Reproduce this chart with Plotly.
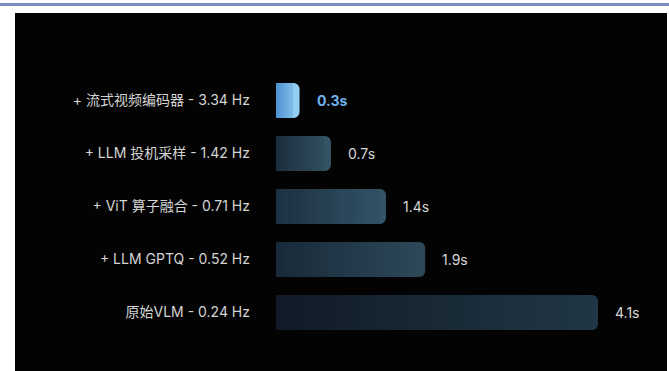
import plotly.graph_objects as go

# Inference latency per optimisation stage
categories = [
    "+ 流式视频编码器 - 3.34 Hz",
    "+ LLM 投机采样 - 1.42 Hz",
    "+ ViT 算子融合 - 0.71 Hz",
    "+ LLM GPTQ - 0.52 Hz",
    "原始VLM - 0.24 Hz",
]
latency_s = [0.3, 0.7, 1.4, 1.9, 4.1]
value_labels = ["0.3s", "0.7s", "1.4s", "1.9s", "4.1s"]

# Gradient colours (left -> right) for each bar
grad_start = ["#4a8fd2", "#1b2d3c", "#1c3042", "#192a3a", "#101b26"]
grad_end = ["#93cef3", "#345365", "#335466", "#2d4959", "#213746"]

W, H = 669, 371
M_L, M_R, M_T, M_B = 276, 16, 74, 32
X_MAX = 4.8
FONT = "Inter, Noto Sans CJK SC"


def hex_to_rgb(h):
    h = h.lstrip("#")
    return tuple(int(h[i:i + 2], 16) for i in (0, 2, 4))


def mix(c0, c1, t):
    a, b = hex_to_rgb(c0), hex_to_rgb(c1)
    return "rgb(%d,%d,%d)" % tuple(round(a[i] + (b[i] - a[i]) * t) for i in range(3))


fig = go.Figure()

# Full-length bars with rounded ends in the end colour
fig.add_trace(go.Bar(
    y=categories, x=latency_s, base=[0] * len(latency_s), orientation="h",
    marker=dict(color=grad_end, line=dict(width=0), cornerradius=6),
    width=0.66, hoverinfo="skip", showlegend=False,
))

# Gradient overlay, split into thin slices that stop short of the rounded end
plot_w = W - M_L - M_R
px_per_unit = plot_w / X_MAX
inset = 7 / px_per_unit
N = 30
for k in range(N):
    starts, widths, colors = [], [], []
    for v, c0, c1 in zip(latency_s, grad_start, grad_end):
        span = max(v - inset, 0)
        step = span / N
        starts.append(k * step)
        widths.append(step * 1.08)
        colors.append(mix(c0, c1, (k + 0.5) / N * span / v))
    fig.add_trace(go.Bar(
        y=categories, x=widths, base=starts, orientation="h",
        marker=dict(color=colors, line=dict(width=0)),
        width=0.66, hoverinfo="skip", showlegend=False,
    ))

# Value labels at the end of each bar
for i, (cat, v, lab) in enumerate(zip(categories, latency_s, value_labels)):
    highlight = i == 0
    fig.add_annotation(
        x=v, y=cat, xref="x", yref="y", text=lab, showarrow=False,
        xanchor="left", yanchor="middle", xshift=15,
        font=dict(family=FONT, size=14,
                  color="#6fb2ec" if highlight else "#d6d6d6",
                  weight="bold" if highlight else "normal"),
    )

plot_h = H - M_T - M_B


def px_to_paper_x(px):
    return (px - M_L) / plot_w


def px_to_paper_y(py):
    return (H - M_B - py) / plot_h


# Black panel and thin blue rule across the top
fig.add_shape(type="rect", xref="paper", yref="paper", layer="below",
              x0=px_to_paper_x(15), x1=px_to_paper_x(667),
              y0=px_to_paper_y(H + 2), y1=px_to_paper_y(13),
              fillcolor="#030303", line=dict(width=0))
fig.add_shape(type="rect", xref="paper", yref="paper", layer="below",
              x0=px_to_paper_x(-2), x1=px_to_paper_x(W + 2),
              y0=px_to_paper_y(6), y1=px_to_paper_y(3),
              fillcolor="#7a8cc2", line=dict(width=0))

fig.update_layout(
    width=W, height=H, autosize=False,
    margin=dict(l=M_L, r=M_R, t=M_T, b=M_B, pad=0),
    paper_bgcolor="white", plot_bgcolor="rgba(0,0,0,0)",
    barmode="overlay", bargap=0.34,
    xaxis=dict(range=[0, X_MAX], visible=False, fixedrange=True),
    yaxis=dict(
        categoryorder="array", categoryarray=categories[::-1],
        showgrid=False, zeroline=False, showline=False, ticks="",
        ticklabelstandoff=25,
        tickfont=dict(family=FONT, size=14, color="#d4d4d4"),
        fixedrange=True,
    ),
    showlegend=False,
)

fig.write_html("out.html")
